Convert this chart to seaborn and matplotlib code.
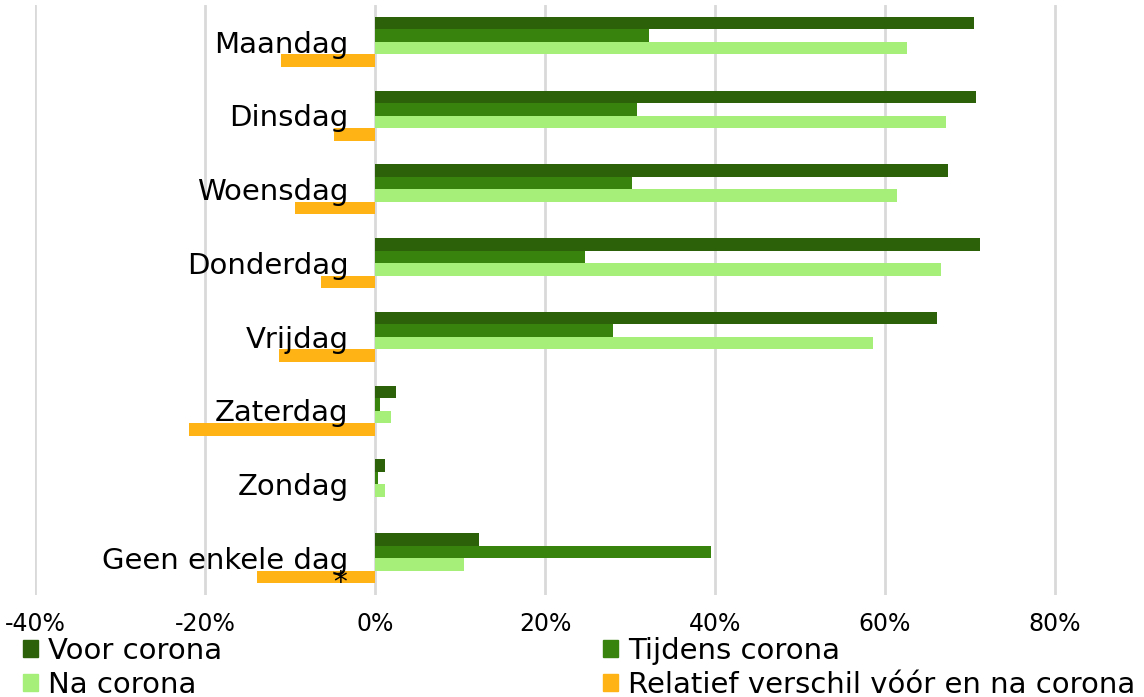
import matplotlib
matplotlib.use('Agg')
import matplotlib.pyplot as plt
from matplotlib.ticker import PercentFormatter
from matplotlib.patches import Patch
import seaborn as sns
import pandas as pd

days = ['Maandag', 'Dinsdag', 'Woensdag', 'Donderdag', 'Vrijdag',
        'Zaterdag', 'Zondag', 'Geen enkele dag']
voor = [70.5, 70.7, 67.4, 71.2, 66.1, 2.5, 1.2, 12.2]
tijdens = [32.2, 30.8, 30.2, 24.7, 28.0, 0.6, 0.3, 39.5]
na = [62.6, 67.2, 61.4, 66.6, 58.6, 1.9, 1.2, 10.5]
relatief = [-11.1, -4.8, -9.4, -6.4, -11.3, -21.9, 0.0, -13.9]

series = ['Voor corona', 'Tijdens corona', 'Na corona',
          'Relatief verschil vóór en na corona']
colors = ['#2c6109', '#38830e', '#a6f07a', '#ffb314']

rows = []
for name, vals in zip(series, [voor, tijdens, na, relatief]):
    for d, v in zip(days, vals):
        rows.append({'dag': d, 'serie': name, 'waarde': v})
df = pd.DataFrame(rows)

sns.set_style('white')
plt.rcParams['font.family'] = ['DejaVu Sans']
plt.rcParams['axes.unicode_minus'] = False
plt.rcParams['text.color'] = 'black'
plt.rcParams['xtick.color'] = 'black'

fig = plt.figure(figsize=(11.44, 6.97), dpi=100)
ax = fig.add_axes([0.0306, 0.1463, 0.9659, 0.8465])

sns.barplot(data=df, y='dag', x='waarde', hue='serie', order=days,
            hue_order=series, palette=colors, orient='h', width=0.68,
            gap=0, saturation=1, ax=ax, legend=False, edgecolor='none',
            zorder=2)

ax.set_xlim(-40, 90)
ax.set_xticks([-40, -20, 0, 20, 40, 60, 80])
ax.xaxis.set_major_formatter(PercentFormatter(decimals=0))
ax.grid(axis='x', color='#d9d9d9', linewidth=2, zorder=0)
ax.set_axisbelow(True)
ax.set_yticks([])
ax.set_xlabel('')
ax.set_ylabel('')
ax.tick_params(axis='x', length=0, labelsize=17, pad=12, labelcolor='black')
for s in ax.spines.values():
    s.set_visible(False)

# dag-labels naast de nul-as, zoals in Excel
for i, d in enumerate(days):
    ax.annotate(d, xy=(0, i), xytext=(-19, -2), textcoords='offset points',
                ha='right', va='center', fontsize=21, color='black', zorder=5)
ax.annotate('*', xy=(0, len(days) - 1), xytext=(-25, -18),
            textcoords='offset points', ha='center', va='center',
            fontsize=20, color='black', zorder=5)

handles = [Patch(color=colors[i]) for i in [0, 2, 1, 3]]
labels = [series[i] for i in [0, 2, 1, 3]]
fig.legend(handles, labels, loc='lower left', bbox_to_anchor=(0.01, -0.019),
           ncol=2, frameon=False, fontsize=21, handlelength=0.5,
           handleheight=0.5, handletextpad=0.35, columnspacing=13.07,
           labelspacing=0.2, borderaxespad=0)

fig.savefig('out.png', dpi=100)
